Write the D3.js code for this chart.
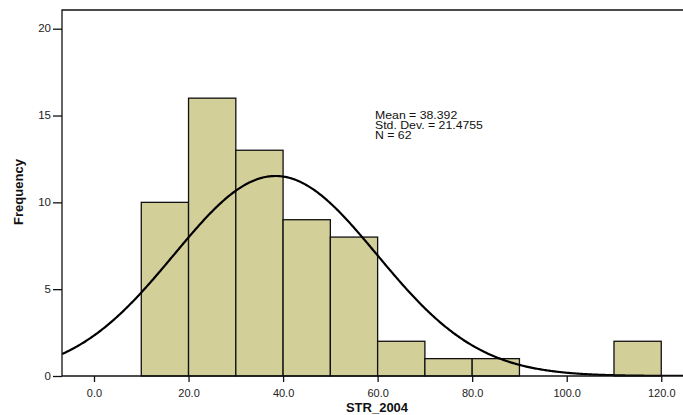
<!DOCTYPE html>
<html><head><meta charset="utf-8">
<script src="https://cdn.jsdelivr.net/npm/d3@7"></script>
<style>body{margin:0;background:#fff;} svg{display:block;} text{font-family:Arial,"Liberation Sans",sans-serif;}</style>
</head><body>
<svg id="c" width="683" height="415"></svg>
<script>
const binStarts = [10, 20, 30, 40, 50, 60, 70, 80, 110];
const binWidth = 10;
const counts = [10, 16, 13, 9, 8, 2, 1, 1, 2];
const xTicks = [0, 20, 40, 60, 80, 100, 120];
const yTicks = [0, 5, 10, 15, 20];
const stats = ["Mean = 38.392", "Std. Dev. = 21.4755", "N = 62"];
const mean = 38.392, sd = 21.4755, n = 62;

const svg = d3.select("#c");
const pL = 62, pR = 683, pT = 10, pB = 376;
const x = d3.scaleLinear().domain([-6.77, 124.6]).range([pL, pR]);
const y = d3.scaleLinear().domain([0, 20]).range([pB, 28.7]);

svg.append("clipPath").attr("id","clip").append("rect")
  .attr("x", pL).attr("y", pT).attr("width", pR-pL+5).attr("height", pB-pT);

// bars
svg.append("g").selectAll("rect").data(binStarts).join("rect")
  .attr("x", (d)=>x(d)).attr("width", (d)=>x(d+binWidth)-x(d))
  .attr("y", (d,i)=>y(counts[i])).attr("height", (d,i)=>y(0)-y(counts[i]))
  .attr("fill", "#d3cf99").attr("stroke", "#111").attr("stroke-width", 1.3);

// normal curve
const pts = d3.range(-6.77, 130, 0.25).map(v => [v, n*binWidth*Math.exp(-0.5*((v-mean)/sd)**2)/(sd*Math.sqrt(2*Math.PI))]);
svg.append("path").attr("clip-path","url(#clip)")
  .attr("d", d3.line().x(d=>x(d[0])).y(d=>y(d[1]))(pts))
  .attr("fill","none").attr("stroke","#000").attr("stroke-width",2.2);

// frame
svg.append("path").attr("d", `M${pL},${pB}V${pT}H${pR+5}`).attr("fill","none").attr("stroke","#111").attr("stroke-width",1.3);

// x axis
const xa = svg.append("g").attr("transform",`translate(0,${pB})`)
  .call(d3.axisBottom(x).tickValues(xTicks).tickFormat(d3.format(".1f")).tickSize(6).tickSizeOuter(0));
xa.select(".domain").attr("d", `M${pL},0H${pR+5}`).attr("stroke","#111").attr("stroke-width",1.3);
xa.selectAll(".tick line").attr("stroke","#111").attr("stroke-width",1.3);
xa.selectAll(".tick text").attr("font-size","10px").attr("fill","#222").attr("dy","1.25em")
  .attr("transform","scale(1.1,1)").attr("font-family","Arial, 'Liberation Sans', sans-serif");

// y axis
const ya = svg.append("g").attr("transform",`translate(${pL},0)`)
  .call(d3.axisLeft(y).tickValues(yTicks).tickFormat(d3.format("d")).tickSize(9).tickSizeOuter(0));
ya.select(".domain").remove();
ya.selectAll(".tick text").each(function(){
  d3.select(this).attr("x", -11/1.15).attr("transform","scale(1.15,1)");
});
ya.selectAll(".tick line").attr("stroke","#111").attr("stroke-width",1.3);
ya.selectAll(".tick text").attr("font-size","10px").attr("fill","#222").attr("font-family","Arial, 'Liberation Sans', sans-serif");

// titles
svg.append("text").attr("x", 377).attr("y", 412).attr("text-anchor","middle")
  .attr("font-size","13px").attr("font-weight","bold").attr("fill","#111").text("STR_2004");
svg.append("text").attr("transform","translate(23,192) rotate(-90)").attr("text-anchor","middle")
  .attr("font-size","13px").attr("font-weight","bold").attr("fill","#111").text("Frequency");

// stats
svg.append("g").attr("transform","translate(375,0) scale(1.23,1)")
  .selectAll("text").data(stats).join("text")
  .attr("x", 0).attr("y", (d,i)=>119.5+i*10).attr("font-size","10px").attr("fill","#111").text(d=>d);
</script>
</body></html>
